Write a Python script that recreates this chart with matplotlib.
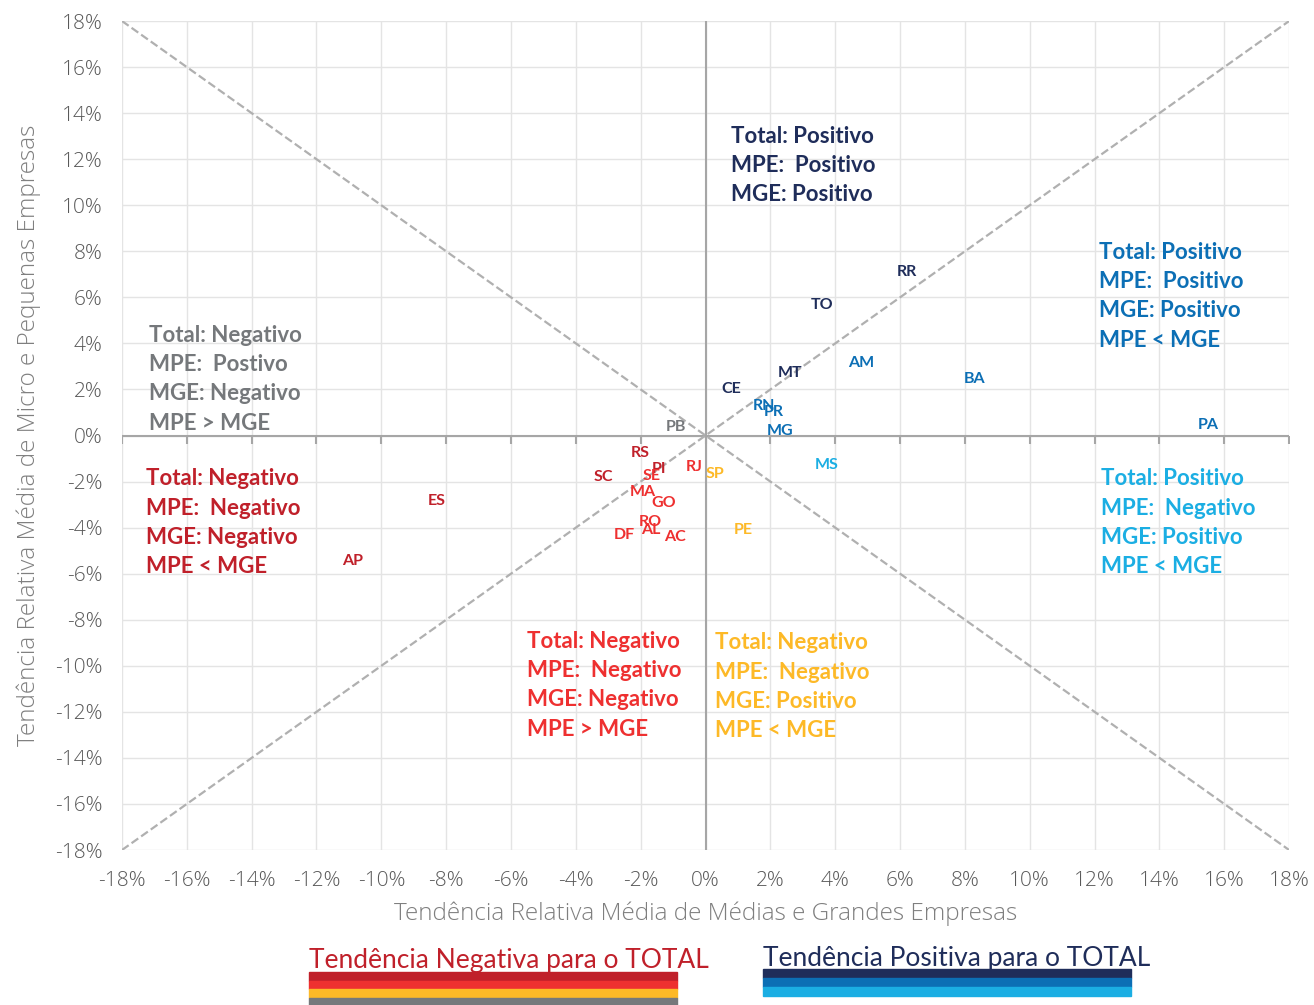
import matplotlib.pyplot as plt
from matplotlib.markers import TICKDOWN
import numpy as np

# estados e tendências (%)
uf = ['RR', 'TO', 'MT', 'CE', 'AM', 'BA', 'RN', 'PR', 'MG', 'PA', 'MS', 'PB',
      'RS', 'PI', 'SC', 'ES', 'AP', 'SE', 'RJ', 'MA', 'GO', 'RO', 'AL', 'DF', 'AC',
      'SP', 'PE']
mge = [6.2, 3.6, 2.6, 0.8, 4.8, 8.3, 1.8, 2.1, 2.3, 15.5, 3.75, -0.9,
       -2.0, -1.45, -3.15, -8.3, -10.9, -1.65, -0.35, -1.95, -1.3, -1.7, -1.7, -2.5, -0.95,
       0.3, 1.15]
mpe = [7.1, 5.65, 2.7, 2.0, 3.15, 2.45, 1.3, 1.0, 0.2, 0.45, -1.3, 0.35,
       -0.75, -1.45, -1.8, -2.85, -5.45, -1.75, -1.35, -2.45, -2.95, -3.75, -4.1, -4.3, -4.4,
       -1.65, -4.1]
grupo = ['pp', 'pp', 'pp', 'pp', 'pg', 'pg', 'pg', 'pg', 'pg', 'pg', 'pn', 'ng',
         'nd', 'nd', 'nd', 'nd', 'nd', 'nr', 'nr', 'nr', 'nr', 'nr', 'nr', 'nr', 'nr',
         'ny', 'ny']

cores = {'pp': '#1F2D5A', 'pg': '#0C6FB5', 'pn': '#1BAEE3', 'ng': '#75787B',
         'nd': '#C0202A', 'nr': '#EE3030', 'ny': '#FDB927'}

quadrantes = [
    (0.8, 13.46, 'pp', ['Total: Positivo', 'MPE:  Positivo', 'MGE: Positivo']),
    (12.15, 8.42, 'pg', ['Total: Positivo', 'MPE:  Positivo', 'MGE: Positivo', 'MPE < MGE']),
    (-17.15, 4.82, 'ng', ['Total: Negativo', 'MPE:  Postivo', 'MGE: Negativo', 'MPE > MGE']),
    (-17.25, -1.43, 'nd', ['Total: Negativo', 'MPE:  Negativo', 'MGE: Negativo', 'MPE < MGE']),
    (12.2, -1.43, 'pn', ['Total: Positivo', 'MPE:  Negativo', 'MGE: Positivo', 'MPE < MGE']),
    (-5.5, -8.47, 'nr', ['Total: Negativo', 'MPE:  Negativo', 'MGE: Negativo', 'MPE > MGE']),
    (0.3, -8.55, 'ny', ['Total: Negativo', 'MPE:  Negativo', 'MGE: Positivo', 'MPE < MGE']),
]

ticks = np.arange(-18, 19, 2)

fig = plt.figure(figsize=(13.14, 10.05), dpi=100)
ax = fig.add_axes([0.0928, 0.1542, 0.8883, 0.8249])
ax.set_xlim(-18, 18)
ax.set_ylim(-18, 18)
ax.set_xticks(ticks)
ax.set_yticks(ticks)
ax.set_xticklabels([f'{t}%' for t in ticks])
ax.set_yticklabels([f'{t}%' for t in ticks])
ax.grid(color='#E4E4E4', lw=1)
ax.set_axisbelow(True)
for s in ax.spines.values():
    s.set_visible(False)
ax.tick_params(length=0, labelsize=15, labelcolor='#595959')
ax.tick_params(axis='x', pad=15)
ax.tick_params(axis='y', pad=14)
for lbl in ax.get_xticklabels() + ax.get_yticklabels():
    lbl.set_family('Open Sans')
    lbl.set_fontweight('light')

ax.axhline(0, color='#A6A6A6', lw=1.5, zorder=1)
ax.axvline(0, color='#A6A6A6', lw=1.5, zorder=1)
ax.plot(ticks, np.zeros_like(ticks), ls='none', marker=TICKDOWN, ms=6, mew=1.5,
        color='#A6A6A6', zorder=1)
ax.plot([-18, 18], [-18, 18], ls='--', color='#B0B0B0', lw=1.6, zorder=1)
ax.plot([-18, 18], [18, -18], ls='--', color='#B0B0B0', lw=1.6, zorder=1)

for n, x, y, g in zip(uf, mge, mpe, grupo):
    ax.text(x, y, n, color=cores[g], fontsize=11.5, fontweight='bold', family='Lato',
            ha='center', va='center', zorder=3)

for x, y, g, linhas in quadrantes:
    ax.text(x, y, '\n'.join(linhas), color=cores[g], fontsize=16, fontweight='bold',
            family='Lato', ha='left', va='top', linespacing=1.49, zorder=3)

ax.set_xlabel('Tendência Relativa Média de Médias e Grandes Empresas', fontsize=17.5,
              color='#7F7F7F', family='Open Sans', fontweight='light', labelpad=8)
ax.set_ylabel('Tendência Relativa Média de Micro e Pequenas Empresas', fontsize=17.5,
              color='#7F7F7F', family='Open Sans', fontweight='light', labelpad=10)

# legenda inferior
fig.text(309 / 1314, 1 - 960 / 1005, 'Tendência Negativa para o TOTAL', color='#C0202A',
         fontsize=19, family='Lato', va='center', ha='left')
fig.text(763 / 1314, 1 - 958 / 1005, 'Tendência Positiva para o TOTAL', color='#1F2D5A',
         fontsize=19, family='Lato', va='center', ha='left')
neg = ['#C0202A', '#EE3030', '#FDB927', '#75787B']
pos = ['#1F2D5A', '#0C6FB5', '#1BAEE3']
for i, c in enumerate(neg):
    y0 = 972 + i * 8.5
    fig.add_artist(plt.Rectangle((309 / 1314, 1 - (y0 + 8.5) / 1005), 368 / 1314, 8.5 / 1005,
                                 color=c, transform=fig.transFigure))
for i, c in enumerate(pos):
    y0 = 969 + i * 9
    fig.add_artist(plt.Rectangle((763 / 1314, 1 - (y0 + 9) / 1005), 368 / 1314, 9 / 1005,
                                 color=c, transform=fig.transFigure))

fig.savefig('out.png', dpi=100)
